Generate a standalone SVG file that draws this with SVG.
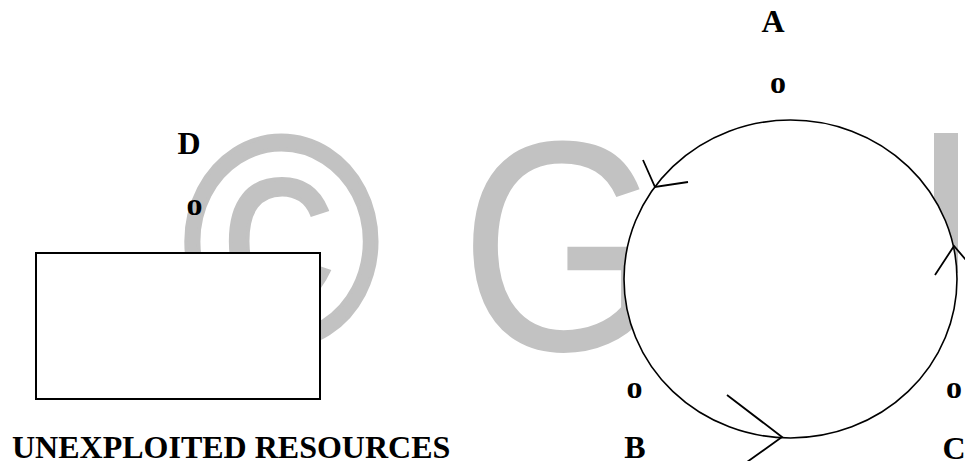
<svg xmlns="http://www.w3.org/2000/svg" width="965" height="461" viewBox="0 0 965 461">
  <style>
    .lbl { font-family: "Liberation Serif", "Times New Roman", serif; font-weight: bold; font-size: 32px; fill: #000; }
    .wm { font-family: "Liberation Sans", Arial, sans-serif; font-size: 300px; fill: #c2c2c2; }
    .shape { fill: #fff; stroke: #000; }
    .arrow { fill: none; stroke: #000; stroke-width: 1.8; stroke-linecap: butt; stroke-linejoin: miter; }
  </style>
  <rect x="0" y="0" width="965" height="461" fill="#fff"/>
  <g id="watermark">
    <text class="wm" transform="translate(182,345) scale(0.9,1)" stroke="#c2c2c2" stroke-width="4">©</text>
    <text class="wm" transform="translate(460,350) scale(0.87,1)">G</text>
    <rect x="934" y="133" width="24" height="140" fill="#c2c2c2"/>
  </g>
  <g id="node-unexploited-resources">
    <rect class="shape" x="36" y="253" width="284" height="146" stroke-width="2"/>
    <text class="lbl" x="12" y="458">UNEXPLOITED RESOURCES</text>
  </g>
  <g id="connectors">
    <ellipse class="shape" cx="790.5" cy="279" rx="166.5" ry="159" stroke-width="1.6"/>
    <polyline class="arrow" points="643,160 655,187 688,182"/>
    <polyline class="arrow" points="935,275 954,246 966,260"/>
    <polyline class="arrow" points="727,395 782,437 747,462"/>
  </g>
  <g id="node-A">
    <text class="lbl" x="773" y="32" text-anchor="middle">A</text>
    <text class="lbl" x="778" y="93" text-anchor="middle">o</text>
  </g>
  <g id="node-B">
    <text class="lbl" x="634.5" y="398" text-anchor="middle">o</text>
    <text class="lbl" x="635" y="458" text-anchor="middle">B</text>
  </g>
  <g id="node-C">
    <text class="lbl" x="954" y="398" text-anchor="middle">o</text>
    <text class="lbl" x="954" y="459" text-anchor="middle">C</text>
  </g>
  <g id="node-D">
    <text class="lbl" x="189" y="154" text-anchor="middle">D</text>
    <text class="lbl" x="194.5" y="215" text-anchor="middle">o</text>
  </g>
</svg>
